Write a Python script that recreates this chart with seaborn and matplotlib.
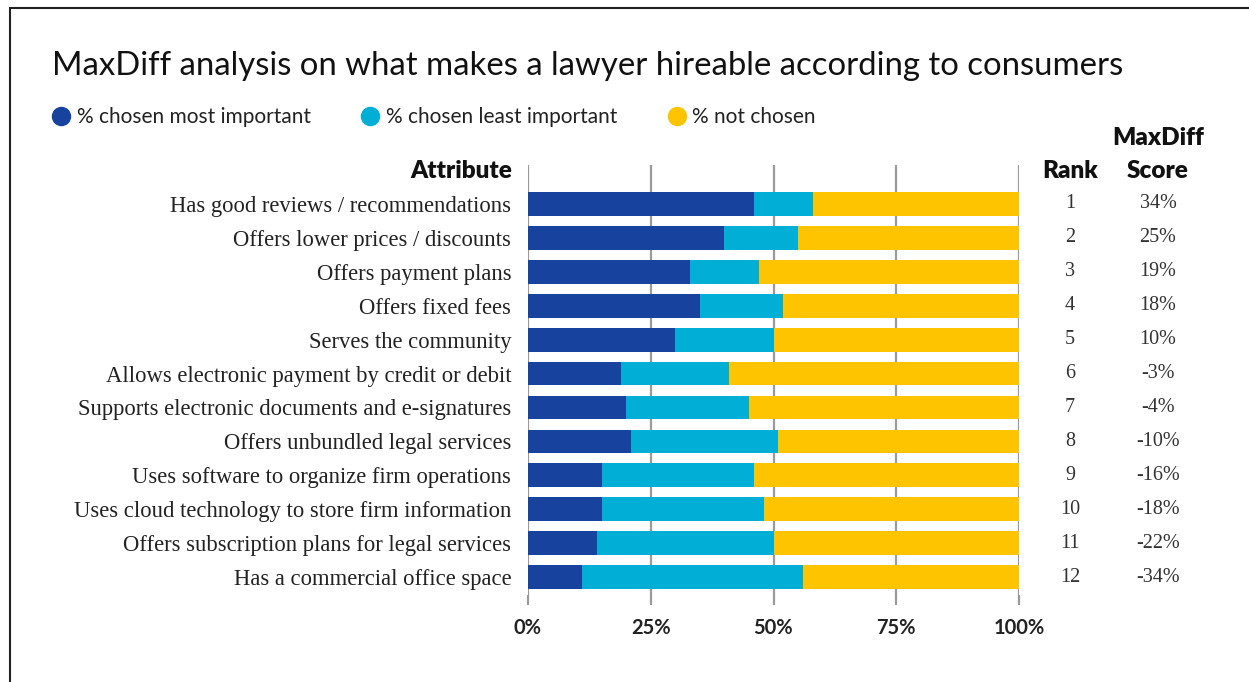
import matplotlib
matplotlib.use("Agg")
import matplotlib.pyplot as plt
import matplotlib.transforms as mtransforms
from matplotlib.lines import Line2D
from matplotlib.patches import Rectangle
import seaborn as sns
import pandas as pd

attributes = [
    "Has good reviews / recommendations",
    "Offers lower prices / discounts",
    "Offers payment plans",
    "Offers fixed fees",
    "Serves the community",
    "Allows electronic payment by credit or debit",
    "Supports electronic documents and e-signatures",
    "Offers unbundled legal services",
    "Uses software to organize firm operations",
    "Uses cloud technology to store firm information",
    "Offers subscription plans for legal services",
    "Has a commercial office space",
]
most_important = [46, 40, 33, 35, 30, 19, 20, 21, 15, 15, 14, 11]
least_important = [12, 15, 14, 17, 20, 22, 25, 30, 31, 33, 36, 45]
not_chosen = [42, 45, 53, 48, 50, 59, 55, 49, 54, 52, 50, 44]
ranks = ["1", "2", "3", "4", "5", "6", "7", "8", "9", "10", "11", "12"]
scores = ["34%", "25%", "19%", "18%", "10%", "-3%", "-4%", "-10%", "-16%", "-18%", "-22%", "-34%"]
series_names = ["% chosen most important", "% chosen least important", "% not chosen"]
x_ticks = [0, 25, 50, 75, 100]
x_tick_labels = ["0%", "25%", "50%", "75%", "100%"]

DARK = "#17439e"
CYAN = "#00aed6"
YELLOW = "#ffc400"
colors = [DARK, CYAN, YELLOW]

SANS = "Lato"
SERIF = "Liberation Serif"

sns.set_theme(style="white")
plt.rcParams["font.family"] = [SANS, "DejaVu Sans"]

df = pd.DataFrame({
    "attribute": attributes,
    "most": most_important,
    "least": least_important,
    "not": not_chosen,
})
df["cum1"] = df["most"]
df["cum2"] = df["most"] + df["least"]
df["cum3"] = df["cum2"] + df["not"]

W, H = 1249, 682
fig = plt.figure(figsize=(W / 100, H / 100), dpi=100)
ax = fig.add_axes([528 / W, 1 - 595 / H, (1019 - 528) / W, (595 - 165) / H])

for col, c in zip(["cum3", "cum2", "cum1"], [YELLOW, CYAN, DARK]):
    sns.barplot(data=df, y="attribute", x=col, orient="h", color=c,
                width=0.7, ax=ax, saturation=1, zorder=3, linewidth=0)

ax.set_xlim(0, 100)
ax.set_ylim(11.53, -1.15)
ax.set_xlabel("")
ax.set_ylabel("")
for s in ax.spines.values():
    s.set_visible(False)
for xv in x_ticks:
    ax.axvline(xv, color="#9a9a9a", lw=1.6, zorder=1)
ax.set_xticks(x_ticks)
ax.set_xticklabels(x_tick_labels, fontsize=14.5, fontweight="bold", color="#222222")
ax.tick_params(axis="x", length=7.5, width=1.6, color="#9a9a9a", pad=9, bottom=True)
ax.set_yticks(range(len(attributes)))
ax.set_yticklabels(attributes, fontsize=16.3, family=SERIF, color="#222222")
ax.tick_params(axis="y", length=0, pad=12)

# right-hand columns
tr = mtransforms.blended_transform_factory(fig.transFigure, ax.transData)
for i, (r, s) in enumerate(zip(ranks, scores)):
    ax.text(1070 / W, i, r, transform=tr, ha="center", va="center",
            fontsize=14.5, family=SERIF, color="#333333")
    ax.text(1158 / W, i, s, transform=tr, ha="center", va="center",
            fontsize=14.5, family=SERIF, color="#333333")

# headers
hdr = dict(fontsize=17.5, fontweight="heavy", color="#111111", va="center")
fig.text(512 / W, 1 - 171 / H, "Attribute", ha="right", **hdr)
fig.text(1070 / W, 1 - 171 / H, "Rank", ha="center", **hdr)
fig.text(1158 / W, 1 - 171 / H, "Score", ha="center", **hdr)
fig.text(1158 / W, 1 - 138 / H, "MaxDiff", ha="center", **hdr)

# title
fig.text(52 / W, 1 - 66 / H, "MaxDiff analysis on what makes a lawyer hireable according to consumers",
         ha="left", va="center", fontsize=23.7, color="#111111")

# legend
handles = [Line2D([0], [0], marker="o", linestyle="", markersize=13,
                  markerfacecolor=c, markeredgecolor=c) for c in colors]
fig.legend(handles, series_names, loc="center left", bbox_to_anchor=(32 / W, 1 - 117 / H),
           ncol=3, frameon=False, fontsize=15, handletextpad=0.25, columnspacing=2.35,
           handlelength=1.0, labelcolor="#222222")

# outer frame
fig.patches.append(Rectangle((10 / W, -0.05), 1.2, 1 - 8 / H + 0.05, transform=fig.transFigure,
                             fill=False, edgecolor="#222222", lw=1.5, zorder=0))

fig.savefig("out.png", dpi=100)
